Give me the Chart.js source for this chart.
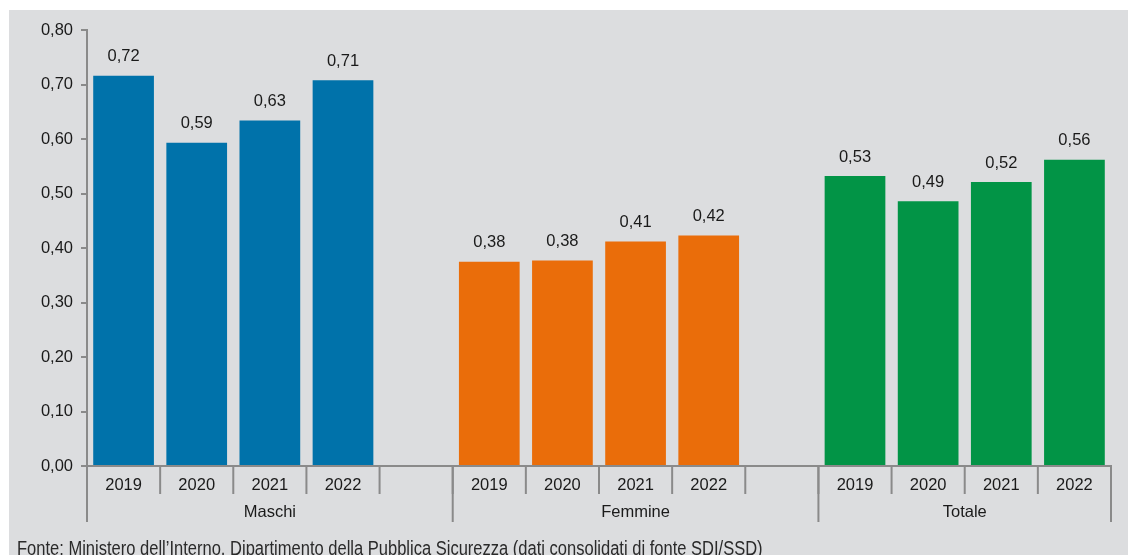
<!DOCTYPE html>
<html>
<head>
<meta charset="utf-8">
<script src="https://cdn.jsdelivr.net/npm/chart.js@4.4.1/dist/chart.umd.min.js"></script>
<style>
  html, body { margin: 0; padding: 0; background: #fff; }
  #panel { position: absolute; left: 9px; top: 10px; width: 1119px; height: 545px; background: #dcdddf; overflow: hidden; }
  #chartBox { position: absolute; left: 0; top: 0; width: 1119px; height: 545px; }
  #source { position: absolute; left: 8px; top: 527px; font-family: "Liberation Sans Narrow", "Liberation Sans", sans-serif; font-size: 20px; line-height: normal; color: #2a2a2a; white-space: nowrap; transform: scaleX(0.826); transform-origin: 0 0; }
</style>
</head>
<body>
<div id="panel">
  <div id="chartBox"><canvas id="rateChart"></canvas></div>
  <div id="source">Fonte: Ministero dell’Interno, Dipartimento della Pubblica Sicurezza (dati consolidati di fonte SDI/SSD)</div>
</div>
<script>
// Data
const groups = ["Maschi", "Femmine", "Totale"];
const years = ["2019", "2020", "2021", "2022"];
const maschi = [0.716, 0.593, 0.634, 0.708];
const femmine = [0.375, 0.377, 0.412, 0.423];
const totale = [0.532, 0.486, 0.521, 0.562];
const groupColors = ["#0072aa", "#ea6d0a", "#029446"];
const yTicks = [0, 0.1, 0.2, 0.3, 0.4, 0.5, 0.6, 0.7, 0.8];

const FONT = "Liberation Sans, Arial, sans-serif";
const fmt = v => v.toFixed(2).replace(".", ",");

// one slot per year, with an empty slot between groups
const labels = [];
const values = [];
const colors = [];
const groupIndex = [];
[maschi, femmine, totale].forEach((series, g) => {
  if (g > 0) { labels.push(""); values.push(null); colors.push("rgba(0,0,0,0)"); groupIndex.push(-1); }
  series.forEach((v, i) => {
    labels.push(years[i]); values.push(v); colors.push(groupColors[g]); groupIndex.push(g);
  });
});

// value labels above bars
const barLabels = {
  id: "barLabels",
  afterDatasetsDraw(chart) {
    const ctx = chart.ctx;
    const meta = chart.getDatasetMeta(0);
    ctx.save();
    ctx.font = "16.5px " + FONT;
    ctx.fillStyle = "#1a1a1a";
    ctx.textAlign = "center";
    ctx.textBaseline = "middle";
    meta.data.forEach((bar, i) => {
      if (values[i] == null) return;
      ctx.fillText(fmt(values[i]), bar.x, bar.y - 19);
    });
    ctx.restore();
  }
};

// two-level category axis: years, then group names
const groupAxis = {
  id: "groupAxis",
  afterDraw(chart) {
    const ctx = chart.ctx;
    const x = chart.scales.x;
    const n = labels.length;
    const w = (x.right - x.left) / n;
    const y0 = x.top;
    ctx.save();
    ctx.strokeStyle = "#8a8a8a";
    ctx.lineWidth = 2;
    ctx.font = "16.5px " + FONT;
    ctx.fillStyle = "#1a1a1a";
    ctx.textAlign = "center";
    ctx.textBaseline = "middle";
    // year separators and labels
    for (let i = 0; i <= n; i++) {
      const bx = x.left + i * w;
      ctx.beginPath(); ctx.moveTo(bx, y0); ctx.lineTo(bx, y0 + 28); ctx.stroke();
    }
    labels.forEach((lab, i) => {
      if (lab) ctx.fillText(lab, x.getPixelForValue(i), y0 + 19);
    });
    // group separators and names
    const bounds = [0];
    let start = 0;
    groups.forEach((g, gi) => {
      const idx = groupIndex.map((v, k) => v === gi ? k : -1).filter(k => k >= 0);
      const last = idx[idx.length - 1];
      const end = gi < groups.length - 1 ? last + 2 : last + 1;
      const cx = x.left + (start + end) / 2 * w;
      ctx.fillText(g, cx, y0 + 46);
      bounds.push(end);
      start = end;
    });
    bounds.forEach(b => {
      const bx = x.left + b * w;
      ctx.beginPath(); ctx.moveTo(bx, y0); ctx.lineTo(bx, y0 + 56); ctx.stroke();
    });
    ctx.restore();
  }
};

const config = {
  type: "bar",
  data: {
    labels: labels,
    datasets: [{
      data: values,
      backgroundColor: colors,
      borderWidth: 0,
      barPercentage: 0.83,
      categoryPercentage: 1
    }]
  },
  options: {
    responsive: true,
    maintainAspectRatio: false,
    animation: false,
    layout: { padding: { top: 20, right: 17, left: 0, bottom: 0 } },
    plugins: {
      legend: { display: false },
      tooltip: { enabled: false }
    },
    scales: {
      x: {
        grid: { display: false },
        ticks: { display: false },
        border: { color: "#8a8a8a", width: 2 },
        afterFit(scale) { scale.height = 89; }
      },
      y: {
        min: 0,
        max: 0.8,
        afterBuildTicks(scale) { scale.ticks = yTicks.map(v => ({ value: v })); },
        ticks: {
          callback: v => fmt(v),
          font: { family: FONT, size: 16.5 },
          color: "#1a1a1a",
          padding: 8
        },
        grid: { drawOnChartArea: false, tickLength: 6, color: "#8a8a8a", lineWidth: 2 },
        border: { color: "#8a8a8a", width: 2 },
        afterFit(scale) { scale.width = 78; }
      }
    }
  },
  plugins: [barLabels, groupAxis]
};

window.addEventListener("DOMContentLoaded", () => {
  new Chart(document.getElementById("rateChart"), config);
});
</script>
</body>
</html>
